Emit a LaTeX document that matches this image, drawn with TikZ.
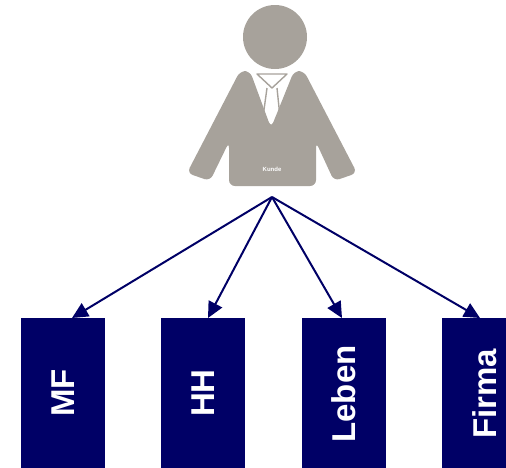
\documentclass[tikz,border=0pt]{standalone}
\usepackage{fontspec}
\setmainfont{Liberation Sans}
\usetikzlibrary{arrows.meta}
\definecolor{navy}{HTML}{000066}
\definecolor{suit}{HTML}{A7A29B}
\begin{document}
\begin{tikzpicture}[x=1pt,y=-1pt,
  box/.style={fill=navy,draw=none,minimum width=84pt,minimum height=160pt,anchor=north,inner sep=0pt},
  lbl/.style={rotate=90,text=white,font=\fontsize{33}{33}\selectfont\bfseries,inner sep=0pt},
  conn/.style={draw=navy,line width=2pt,-{Triangle[length=16pt,width=15pt]}}]
\useasboundingbox (0,0) rectangle (506,467);
\path[clip] (0,0) rectangle (506,467);
% person
\fill[suit] (275,37) circle (32);
\fill[suit,rounded corners=6pt]
  (240,71) -- (250,71) -- (271,128) -- (294,71) -- (304,71)
  -- (357,173) -- (334,181) -- (316,142) -- (316,186) -- (229,186)
  -- (229,142) -- (210,181) -- (187,173) -- cycle;
\draw[suit,line width=1.4pt,line join=round]
  (257,74) -- (287,74) -- (272,88) -- cycle
  (267,88) -- (263,117) -- (271,126) -- (280,117) -- (277,88);
\node[font=\fontsize{6}{6}\selectfont\bfseries,text=white] (kunde) at (272,169) {Kunde};
\coordinate (src) at (272,197);
% boxes
\node[box] (mf) at (63,318) {};
\node[box] (hh) at (203,318) {};
\node[box] (leben) at (343.5,318) {};
\node[box] (firma) at (484,318) {};
\node[lbl] (tmf) at (63,393) {MF};
\node[lbl] (thh) at (203,393) {HH};
\node[lbl] (tleben) at (343.5,394) {Leben};
\node[lbl] (tfirma) at (485,394) {Firma};
% arrows
\draw[conn] (src) -- ([xshift=9pt]mf.north);
\draw[conn] (src) -- ([xshift=5pt]hh.north);
\draw[conn] (src) -- ([xshift=-1.5pt]leben.north);
\draw[conn] (src) -- ([xshift=-4pt]firma.north);
\end{tikzpicture}
\end{document}
